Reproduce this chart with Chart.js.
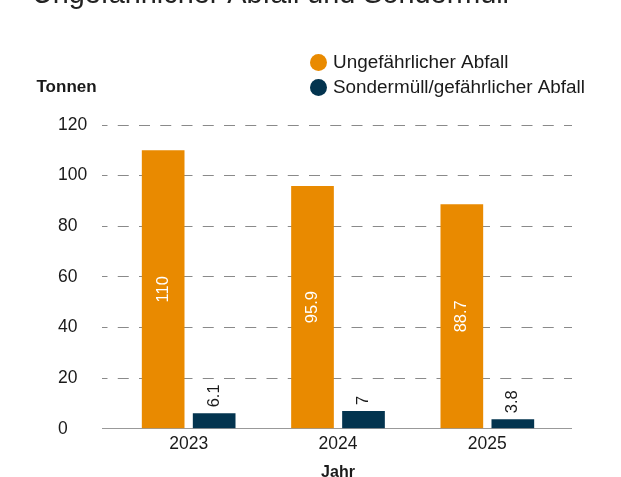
<!DOCTYPE html>
<html>
<head>
<meta charset="utf-8">
<script src="https://cdn.jsdelivr.net/npm/chart.js@4.4.1/dist/chart.umd.min.js"></script>
<style>
	html, body { margin: 0; padding: 0; background: #fff; overflow: hidden; }
	#wrap { position: relative; width: 621px; height: 477px; overflow: hidden; }
	#chart { position: absolute; left: 0; top: 0; }
</style>
</head>
<body>
<div id="wrap"><canvas id="chart" width="621" height="482"></canvas></div>
<script>
const years = ['2023', '2024', '2025'];
const ungefaehrlich = [110, 95.9, 88.7];
const sondermuell = [6.1, 7, 3.8];
const seriesNames = ['Ungefährlicher Abfall', 'Sondermüll/gefährlicher Abfall'];
const seriesColors = ['#E98A00', '#03344F'];
const chartTitle = 'Ungefährlicher Abfall und Sondermüll';
const yTitle = 'Tonnen';
const xTitle = 'Jahr';

const FONT = "'Liberation Sans', Arial, sans-serif";
const GRID = '#8a8a8a';
const AXIS = '#999';
const DASH = [11, 10.25];

// title (cut at the top), legend in two rows and the "Tonnen" label
const headerPlugin = {
	id: 'header',
	afterDraw(chart) {
		const ctx = chart.ctx;
		const top = chart.chartArea.top;
		ctx.save();
		ctx.fillStyle = '#222';
		ctx.font = '28.8px ' + FONT;
		ctx.textAlign = 'left';
		ctx.textBaseline = 'alphabetic';
		ctx.fillText(chartTitle, 32, 2.5);

		ctx.textBaseline = 'middle';
		chart.data.datasets.forEach((ds, i) => {
			const y = top - 62.5 + i * 25;
			ctx.fillStyle = ds.backgroundColor;
			ctx.beginPath();
			ctx.arc(318.5, y, 8.5, 0, Math.PI * 2);
			ctx.fill();
			ctx.fillStyle = '#1a1a1a';
			ctx.font = '18.9px ' + FONT;
			ctx.fillText(ds.label, 333, y);
		});
		ctx.fillStyle = '#1a1a1a';
		ctx.font = 'bold 17px ' + FONT;
		ctx.fillText(yTitle, 36.5, top - 38);
		ctx.restore();
	}
};

// rotated value labels
const valueLabels = {
	id: 'valueLabels',
	afterDatasetsDraw(chart) {
		const ctx = chart.ctx;
		ctx.save();
		ctx.font = '16.5px ' + FONT;
		ctx.textBaseline = 'middle';
		chart.data.datasets.forEach((ds, di) => {
			const meta = chart.getDatasetMeta(di);
			meta.data.forEach((bar, i) => {
				const txt = String(ds.data[i]);
				ctx.save();
				if (di === 0) {
					ctx.translate(bar.x, (bar.y + bar.base) / 2);
					ctx.rotate(-Math.PI / 2);
					ctx.textAlign = 'center';
					ctx.fillStyle = '#ffffff';
				} else {
					ctx.translate(bar.x, bar.y - 6);
					ctx.rotate(-Math.PI / 2);
					ctx.textAlign = 'left';
					ctx.fillStyle = '#1a1a1a';
				}
				ctx.fillText(txt, 0, 0);
				ctx.restore();
			});
		});
		ctx.restore();
	}
};

const data = {
	labels: years,
	datasets: [{
		label: seriesNames[0],
		data: ungefaehrlich,
		backgroundColor: seriesColors[0],
		categoryPercentage: 0.683,
		barPercentage: 0.837
	}, {
		label: seriesNames[1],
		data: sondermuell,
		backgroundColor: seriesColors[1],
		categoryPercentage: 0.683,
		barPercentage: 0.837
	}]
};

const isZero = (c) => c.tick && c.tick.value === 0;

const config = {
	type: 'bar',
	data: data,
	plugins: [headerPlugin, valueLabels],
	options: {
		responsive: false,
		animation: false,
		devicePixelRatio: 1,
		layout: {
			padding: { left: 58, right: 49, top: 125, bottom: 0 }
		},
		plugins: {
			legend: { display: false },
			tooltip: { enabled: false },
			title: { display: false }
		},
		scales: {
			x: {
				grid: { display: false, drawTicks: false },
				border: { display: true, color: AXIS, width: 1 },
				ticks: {
					color: '#1a1a1a',
					padding: 5,
					font: { size: 17.5, family: FONT }
				},
				title: {
					display: true,
					text: xTitle,
					color: '#1a1a1a',
					font: { size: 16, family: FONT, weight: 'bold' },
					padding: { top: 3, bottom: 0 }
				}
			},
			y: {
				min: 0,
				max: 120,
				afterFit(scale) { scale.width = 56; },
				grid: {
					drawTicks: true,
					tickLength: 12,
					color: (c) => isZero(c) ? 'rgba(0,0,0,0)' : GRID,
					tickColor: (c) => isZero(c) ? AXIS : GRID,
					tickBorderDash: (c) => isZero(c) ? [] : DASH,
					tickBorderDashOffset: 5.5,
					lineWidth: 1
				},
				border: { display: false, dash: DASH, dashOffset: 17.5 },
				ticks: {
					stepSize: 20,
					crossAlign: 'far',
					padding: 3,
					color: '#1a1a1a',
					font: { size: 17.5, family: FONT }
				}
			},
			// right-hand stub: carries the grid lines and the axis line a bit past the plot
			yRight: {
				position: 'right',
				min: 0,
				max: 120,
				afterFit(scale) { scale.width = 10; },
				grid: {
					drawOnChartArea: false,
					drawTicks: true,
					tickLength: 10,
					tickColor: (c) => isZero(c) ? AXIS : GRID,
					tickBorderDash: (c) => isZero(c) ? [] : DASH,
					tickBorderDashOffset: 19.25
				},
				border: { display: false },
				ticks: { display: false, stepSize: 20 }
			}
		}
	}
};

new Chart(document.getElementById('chart'), config);
</script>
</body>
</html>
